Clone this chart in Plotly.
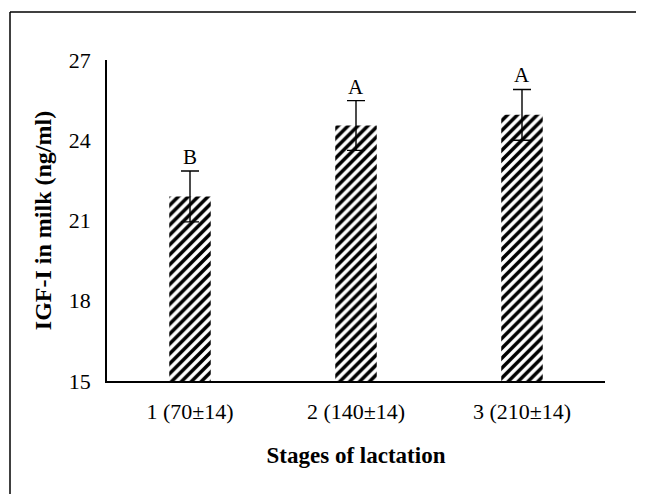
import plotly.graph_objects as go

categories = ["1 (70±14)", "2 (140±14)", "3 (210±14)"]
igf_means = [21.9, 24.55, 24.95]
igf_errors = [0.95, 0.93, 0.95]
sig_letters = ["B", "A", "A"]
y_ticks = [15, 18, 21, 24, 27]

FONT = "Liberation Serif"
OFF = 8  # default page margin of the html body

fig = go.Figure()
fig.add_trace(go.Bar(
    x=categories,
    y=igf_means,
    width=0.25,
    marker=dict(
        color="white",
        line=dict(width=0),
        pattern=dict(shape="/", fgcolor="black", bgcolor="white", size=7, solidity=0.5,
                     fgopacity=1),
    ),
    error_y=dict(type="data", array=igf_errors, visible=True, color="black",
                 thickness=1.4, width=9),
))

for c, m, e, t in zip(categories, igf_means, igf_errors, sig_letters):
    fig.add_annotation(x=c, y=m + e, text=t, showarrow=False, yanchor="bottom",
                       yshift=0, font=dict(family=FONT, size=21, color="black"))

# outer frame (left and top edges visible)
fx0 = -(107 - 10) / 498
fy1 = (381 - 12) / 321
fx1 = (636 - 107) / 498
fig.add_shape(type="line", xref="paper", yref="paper",
              x0=fx0, x1=fx0, y0=-0.6, y1=fy1, line=dict(color="black", width=1.5))
fig.add_shape(type="line", xref="paper", yref="paper",
              x0=fx0, x1=fx1, y0=fy1, y1=fy1, line=dict(color="black", width=1.5))

fig.update_layout(
    width=646 - 2 * OFF, height=502 - 2 * OFF,
    margin=dict(l=107 - OFF, r=41 - OFF, t=60 - OFF, b=121 - OFF),
    paper_bgcolor="white", plot_bgcolor="white",
    showlegend=False,
    font=dict(family=FONT, size=21, color="black"),
    xaxis=dict(
        showline=True, linecolor="black", linewidth=1.5, ticks="",
        ticklabelstandoff=10,
        title=dict(text="<b>Stages of lactation</b>", standoff=24,
                   font=dict(family=FONT, size=23)),
        tickfont=dict(family=FONT, size=22),
        showgrid=False,
    ),
    yaxis=dict(
        range=[15, 27], tickvals=y_ticks, showline=True, linecolor="black",
        linewidth=1.5, ticks="", showgrid=False, zeroline=False,
        ticklabelstandoff=10,
        tickfont=dict(family=FONT, size=22),
        title=dict(text="<b>IGF-I in milk (ng/ml)</b>", standoff=10,
                   font=dict(family=FONT, size=24)),
    ),
)

fig.write_html("out.html")
